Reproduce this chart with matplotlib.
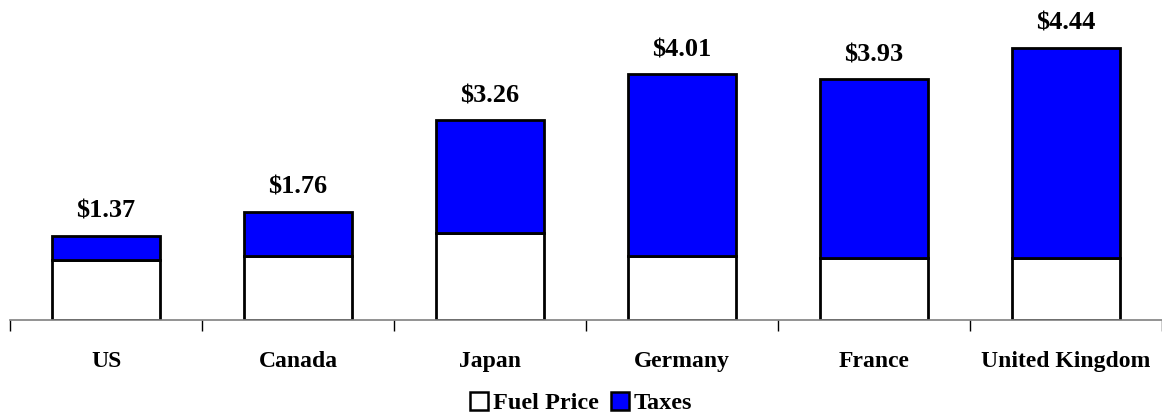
import matplotlib.pyplot as plt
import numpy as np
from matplotlib.patches import Patch

# data
countries = ["US", "Canada", "Japan", "Germany", "France", "United Kingdom"]
totals = [1.37, 1.76, 3.26, 4.01, 3.93, 4.44]
fuel_price = [0.98, 1.03, 1.42, 1.04, 1.00, 1.01]
taxes = [t - f for t, f in zip(totals, fuel_price)]
labels = ["$1.37", "$1.76", "$3.26", "$4.01", "$3.93", "$4.44"]

plt.rcParams["font.family"] = ["Liberation Serif", "DejaVu Serif"]
plt.rcParams["font.weight"] = "bold"

fig = plt.figure(figsize=(11.62, 4.17), dpi=100)
ax = fig.add_axes([10 / 1162, 97.5 / 417, 1152 / 1162, 295 / 417])

x = np.arange(len(countries))
ax.bar(x, fuel_price, width=0.56, color="white", edgecolor="black", linewidth=2)
ax.bar(x, taxes, width=0.56, bottom=fuel_price, color="#0000ff", edgecolor="black", linewidth=2)

for i in range(len(countries)):
    ax.text(x[i], totals[i] + 0.21, labels[i], ha="center", va="bottom",
            fontsize=19, fontweight="bold", clip_on=False)

ax.set_xlim(-0.5, 5.5)
ax.set_ylim(0, 4.82)
ax.set_yticks([])
for s in ["top", "right", "left"]:
    ax.spines[s].set_visible(False)
ax.spines["bottom"].set_color("#808080")
ax.spines["bottom"].set_linewidth(1.2)

# boundary ticks, labels in the middle
ax.set_xticks(np.arange(-0.5, 6.0, 1.0))
ax.set_xticklabels([])
ax.tick_params(axis="x", which="major", length=8, color="black", width=1)
ax.set_xticks(x, minor=True)
ax.set_xticklabels(countries, minor=True, fontsize=17, fontweight="bold")
ax.tick_params(axis="x", which="minor", length=0, pad=23)

handles = [Patch(facecolor="white", edgecolor="black", linewidth=1.8, label="Fuel Price"),
           Patch(facecolor="#0000ff", edgecolor="black", linewidth=1.8, label="Taxes")]
fig.legend(handles=handles, loc="center", bbox_to_anchor=(0.5, 0.033), ncol=2,
           frameon=False, prop={"size": 17.5, "weight": "bold"},
           handlelength=0.75, handleheight=0.75, handletextpad=0.2, columnspacing=0.5)

plt.savefig("out.png", dpi=100)
